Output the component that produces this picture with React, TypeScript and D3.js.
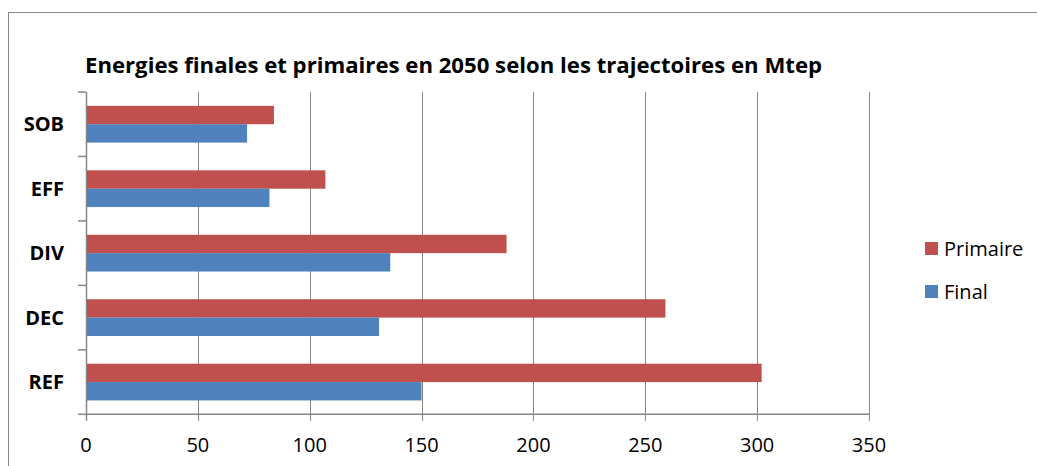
import React from 'react';
import * as d3 from 'd3';

const categories = ['SOB', 'EFF', 'DIV', 'DEC', 'REF'];
const seriesNames = ['Primaire', 'Final'];
const primaire = [84, 107, 188, 259, 302];
const finalValues = [72, 82, 136, 131, 150];
const xTicks = [0, 50, 100, 150, 200, 250, 300, 350];
const title = 'Energies finales et primaires en 2050 selon les trajectoires en Mtep';

const colors = { Primaire: '#C0504D', Final: '#4F81BD' };
const gridColor = '#868686';
const font = '"Open Sans", "Noto Sans", sans-serif';

const App = () => {
  const width = 1037;
  const height = 466;
  const left = 86;
  const right = 869;
  const top = 92;
  const bottom = 414.3;

  const x = d3.scaleLinear().domain([0, 350]).range([left, right]);
  const y = d3.scaleBand<string>().domain(categories).range([top, bottom])
    .paddingInner(0.43).paddingOuter(0.215);
  const sub = d3.scaleBand<string>().domain(seriesNames).range([0, y.bandwidth()]);

  const rows = categories.map((c, i) => ({ cat: c, Primaire: primaire[i], Final: finalValues[i] }));
  const step = y.step();
  const boundaries = d3.range(categories.length + 1).map(i => top + i * step);

  return (
    <svg width={width} height={height} style={{ position: 'absolute', left: 0, top: 0 }}>
      <rect x={0} y={0} width={width} height={height} fill="#fff" />
      <rect x={8.5} y={12.5} width={width + 10} height={height + 10} fill="none" stroke={gridColor} strokeWidth={1} />

      <text x={85} y={73} fontFamily={font} fontWeight="bold" fontSize={21}
        textLength={737} lengthAdjust="spacingAndGlyphs" fill="#000">{title}</text>

      {/* vertical gridlines + ticks */}
      {xTicks.map(t => (
        <g key={t}>
          <line x1={Math.round(x(t)) + 0.5} x2={Math.round(x(t)) + 0.5} y1={top} y2={bottom + 6.5}
            stroke={gridColor} strokeWidth={t === 0 ? 1.5 : 1} />
          <text x={x(t)} y={452} textAnchor="middle" fontFamily={font} fontSize={20} fill="#000">{t}</text>
        </g>
      ))}

      {/* bars */}
      {rows.map(r => (
        <g key={r.cat} transform={`translate(0,${y(r.cat)})`}>
          {seriesNames.map(s => (
            <rect key={s} x={x(0) + 1} y={sub(s)} width={x(r[s]) - x(0) - 1} height={sub.bandwidth()}
              fill={colors[s]} />
          ))}
          <text x={64} y={sub.bandwidth() + 7} textAnchor="end" fontFamily={font} fontWeight="bold"
            fontSize={20} fill="#000">{r.cat}</text>
        </g>
      ))}

      {/* axes lines */}
      <line x1={left} x2={right} y1={bottom} y2={bottom} stroke={gridColor} strokeWidth={1.5} />
      {boundaries.map((b, i) => (
        <line key={i} x1={78} x2={left} y1={b} y2={b} stroke={gridColor} strokeWidth={1.5} />
      ))}

      {/* legend */}
      {seriesNames.map((s, i) => (
        <g key={s} transform={`translate(925,${242 + i * 43})`}>
          <rect x={0} y={0} width={13} height={13} fill={colors[s]} />
          <text x={19} y={14} fontFamily={font} fontSize={20} fill="#000">{s}</text>
        </g>
      ))}
    </svg>
  );
};

export default App;
